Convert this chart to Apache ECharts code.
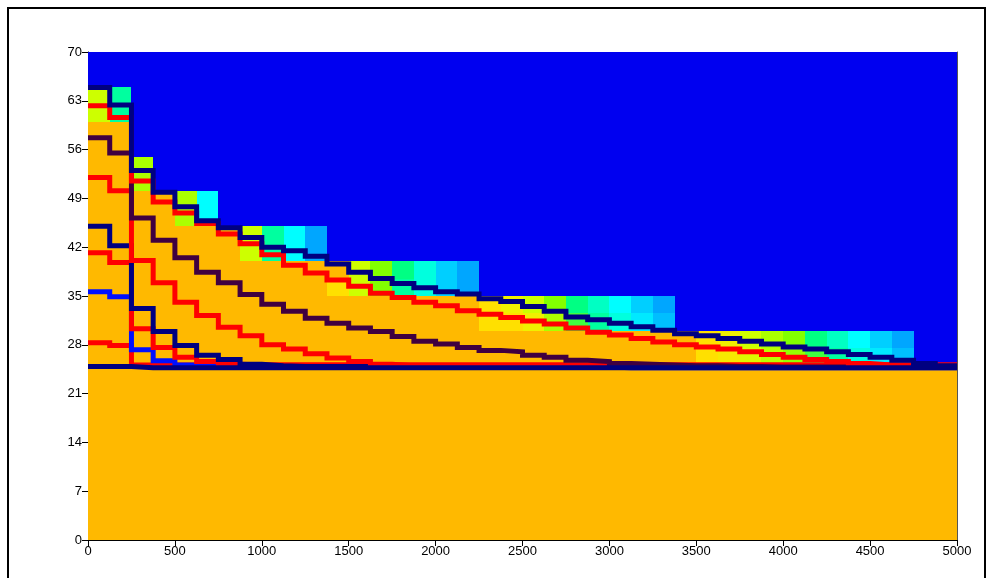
<!DOCTYPE html>
<html>
<head>
<meta charset="utf-8">
<script src="https://cdn.jsdelivr.net/npm/echarts@6/dist/echarts.min.js"></script>
<style>
  html, body { margin: 0; padding: 0; background: #fff; }
  #chart { width: 986px; height: 578px; }
</style>
</head>
<body>
<div id="chart"></div>
<script>
// Column left edges (m); every column is 125 m wide
const colStart = [0, 125, 250, 375, 500, 625, 750, 875, 1000, 1125,
  1250, 1375, 1500, 1625, 1750, 1875, 2000, 2125, 2250, 2375,
  2500, 2625, 2750, 2875, 3000, 3125, 3250, 3375, 3500, 3625,
  3750, 3875, 4000, 4125, 4250, 4375, 4500, 4625, 4750, 4875];
const colWidth = 125;
const xMax = 5000;
const yMax = 70;

// Top of the terraced domain in each column
const surfaceTop = [65, 65, 55, 50, 50, 50, 45, 45, 45, 45,
  45, 40, 40, 40, 40, 40, 40, 40, 35, 35,
  35, 35, 35, 35, 35, 35, 35, 30, 30, 30,
  30, 30, 30, 30, 30, 30, 30, 30, 25, 25];

// Saturation of the surface layer (upper and lower half of each 5 m layer)
const satUpper = [0.73, 0.41, 0.64, 1.00, 0.64, 0.27, 1.00, 0.73, 0.41, 0.27,
  0.09, 1.00, 0.73, 0.55, 0.45, 0.32, 0.18, 0.09, 0.91, 0.82,
  0.73, 0.55, 0.45, 0.36, 0.27, 0.18, 0.09, 1.00, 0.91, 0.82,
  0.73, 0.64, 0.55, 0.45, 0.36, 0.27, 0.18, 0.09, null, null];
const satLower = [0.73, 0.41, 0.64, 1.00, 0.64, 0.27, 1.00, 0.73, 0.41, 0.27,
  0.09, 0.91, 0.73, 0.55, 0.41, 0.32, 0.18, 0.09, 0.91, 0.91,
  0.82, 0.64, 0.50, 0.41, 0.32, 0.23, 0.14, 1.00, 0.91, 0.86,
  0.77, 0.68, 0.59, 0.50, 0.41, 0.32, 0.23, 0.14, null, null];

// Water-table profiles (elevation per column), listed from the highest one down
const profiles = [
  { name: 'P1', color: '#000080', y: [64.9, 62.4, 53.0, 49.9, 47.8, 45.8, 44.8, 43.4, 42.0, 41.5,
    40.7, 39.6, 38.4, 37.5, 36.8, 36.2, 35.6, 35.3, 34.6, 34.2,
    33.5, 32.8, 32.0, 31.6, 31.1, 30.6, 30.1, 29.6, 29.3, 28.9,
    28.5, 28.1, 27.7, 27.4, 27.0, 26.6, 26.2, 25.8, 25.3, 25.0] },
  { name: 'P2', color: '#ff0000', y: [62.3, 60.6, 51.5, 48.5, 46.9, 45.4, 43.9, 42.5, 40.9, 39.4,
    38.3, 37.3, 36.4, 35.4, 34.8, 34.1, 33.6, 32.9, 32.4, 31.9,
    31.4, 31.0, 30.4, 29.8, 29.4, 28.9, 28.4, 28.0, 27.7, 27.4,
    27.0, 26.6, 26.2, 25.9, 25.6, 25.3, 25.1, 24.9, 24.8, 24.8] },
  { name: 'P3', color: '#400040', y: [57.7, 55.5, 46.2, 43.0, 40.5, 38.4, 36.9, 35.2, 33.8, 32.8,
    31.8, 31.1, 30.4, 29.9, 29.2, 28.5, 28.1, 27.6, 27.2, 27.0,
    26.5, 26.2, 25.8, 25.6, 25.3, 25.2, 25.1, 25.0, 25.0, 24.9,
    24.9, 24.8, 24.8, 24.8, 24.8, 24.8, 24.8, 24.8, 24.8, 24.8] },
  { name: 'P4', color: '#ff0000', y: [52.0, 50.1, 40.1, 36.9, 34.1, 32.2, 30.5, 29.3, 28.0, 27.4,
    26.7, 26.1, 25.6, 25.2, 25.0, 25.0, 25.0, 25.0, 25.0, 25.0,
    25.0, 25.0, 25.0, 25.0, 25.0, 25.0, 25.0, 25.0, 25.0, 25.0,
    25.0, 25.0, 25.0, 25.0, 25.0, 25.0, 25.0, 25.0, 25.0, 25.0] },
  { name: 'P5', color: '#000080', y: [45.0, 42.2, 33.2, 29.9, 27.9, 26.5, 25.9, 25.2, 25.0, 24.9,
    24.9, 24.9, 24.9, 24.9, 24.9, 24.9, 24.9, 24.9, 24.9, 24.9,
    24.9, 24.9, 24.9, 24.8, 24.8, 24.8, 24.8, 24.8, 24.8, 24.8,
    24.8, 24.8, 24.8, 24.8, 24.8, 24.8, 24.8, 24.8, 24.8, 24.8] },
  { name: 'P6', color: '#ff0000', y: [41.2, 39.8, 30.3, 27.6, 26.2, 25.6, 25.2, 25.1, 25.1, 25.1,
    25.1, 25.1, 25.1, 25.1, 25.1, 25.1, 25.1, 25.1, 25.1, 25.1,
    25.1, 25.1, 25.1, 25.1, 25.1, 25.1, 25.1, 25.1, 25.1, 25.1,
    25.1, 25.1, 25.1, 25.1, 25.1, 25.1, 25.1, 25.1, 25.1, 25.1] },
  { name: 'P7', color: '#0010ff', y: [35.6, 34.9, 27.3, 25.7, 25.1, 25.0, 24.9, 24.8, 24.8, 24.8,
    24.8, 24.8, 24.8, 24.8, 24.8, 24.8, 24.8, 24.8, 24.8, 24.8,
    24.8, 24.8, 24.8, 24.8, 24.7, 24.7, 24.7, 24.7, 24.7, 24.7,
    24.7, 24.7, 24.7, 24.7, 24.7, 24.7, 24.7, 24.7, 24.7, 24.7] },
  { name: 'P8', color: '#ff0000', y: [28.3, 27.9, 25.1, 25.1, 25.1, 25.1, 25.1, 25.1, 25.1, 25.1,
    25.1, 25.1, 25.1, 25.1, 25.1, 25.1, 25.1, 25.1, 25.1, 25.1,
    25.1, 25.1, 25.1, 25.1, 25.1, 25.1, 25.1, 25.1, 25.1, 25.1,
    25.1, 25.1, 25.1, 25.1, 25.1, 25.1, 25.1, 25.1, 25.1, 25.1] },
  { name: 'P9', color: '#000080', y: [24.9, 24.9, 24.7, 24.7, 24.7, 24.7, 24.7, 24.7, 24.7, 24.7,
    24.7, 24.7, 24.7, 24.7, 24.7, 24.7, 24.7, 24.7, 24.7, 24.7,
    24.7, 24.7, 24.7, 24.7, 24.7, 24.7, 24.7, 24.7, 24.7, 24.7,
    24.7, 24.7, 24.7, 24.7, 24.7, 24.7, 24.7, 24.7, 24.7, 24.7] }
];

// Saturation colour scale: dry (blue) to fully saturated (orange)
const satColors = ['#0000f0', '#00a8ff', '#00d0ff', '#00ffff', '#00ffc0', '#00ff80',
  '#80ff00', '#aaff00', '#ccff00', '#f0f000', '#ffe000', '#ffb900'];

// Cells: [x0, x1, y0, y1, saturation]
const cells = [];
colStart.forEach((x0, i) => {
  const x1 = x0 + colWidth;
  const top = surfaceTop[i];
  cells.push([x0, x1, top, yMax, 0]);
  if (satUpper[i] === null) {
    cells.push([x0, x1, 0, top, 1]);
  } else {
    cells.push([x0, x1, top - 2.5, top, satUpper[i]]);
    cells.push([x0, x1, top - 5, top - 2.5, satLower[i]]);
    cells.push([x0, x1, 0, top - 5, 1]);
  }
});

function renderCell(params, api) {
  const a = api.coord([api.value(0), api.value(3)]);
  const b = api.coord([api.value(1), api.value(2)]);
  const x = Math.round(a[0]), y = Math.round(a[1]);
  return {
    type: 'rect',
    shape: { x: x, y: y, width: Math.round(b[0]) - x, height: Math.round(b[1]) - y },
    style: { fill: api.visual('color') }
  };
}

// Bottom profile first so the highest profile is drawn on top
const lineSeries = profiles.slice().reverse().map((p, k) => ({
  type: 'line',
  name: p.name,
  step: 'end',
  showSymbol: false,
  silent: true,
  animation: false,
  data: colStart.map((x, i) => [x, p.y[i]]).concat([[xMax, p.y[p.y.length - 1]]]),
  lineStyle: { color: p.color, width: 5, cap: 'butt', join: 'miter' },
  z: 3
}));
// Keep the base navy profile above the red one that shares the floor level
lineSeries[0].z = 4;

const labelStyle = { color: '#000', fontSize: 13, fontFamily: 'Liberation Sans, Arial, sans-serif' };

const chart = echarts.init(document.getElementById('chart'), null, { renderer: 'canvas' });
chart.setOption({
  animation: false,
  backgroundColor: '#fff',
  grid: { left: 88, right: 29, top: 52, bottom: 38 },
  xAxis: {
    type: 'value', min: 0, max: xMax, interval: 500,
    axisLine: { show: true, lineStyle: { color: '#000', width: 1 } },
    axisTick: { show: true, length: 6, lineStyle: { color: '#000' } },
    axisLabel: Object.assign({ margin: 5, formatter: v => String(v) }, labelStyle),
    splitLine: { show: false }
  },
  yAxis: [{
    type: 'value', min: 0, max: yMax, interval: 7,
    axisLine: { show: true, lineStyle: { color: '#000', width: 1 } },
    axisTick: { show: true, length: 6, lineStyle: { color: '#000' } },
    axisLabel: Object.assign({ margin: 6, formatter: v => String(v) }, labelStyle),
    splitLine: { show: false }
  }, {
    type: 'value', min: 0, max: yMax, position: 'right',
    axisLine: { show: true, lineStyle: { color: '#555', width: 1 } },
    axisTick: { show: false }, axisLabel: { show: false }, splitLine: { show: false }
  }],
  visualMap: {
    show: false, type: 'continuous', min: 0, max: 1, dimension: 4, seriesIndex: 0,
    inRange: { color: satColors }
  },
  graphic: [{
    type: 'rect', silent: true, z: 100,
    shape: { x: 8, y: 8, width: 977, height: 620 },
    style: { fill: null, stroke: '#000', lineWidth: 2 }
  }],
  series: [{
    type: 'custom',
    renderItem: renderCell,
    data: cells,
    encode: { x: [0, 1], y: [2, 3] },
    silent: true,
    clip: true,
    z: 1
  }].concat(lineSeries)
});
</script>
</body>
</html>
